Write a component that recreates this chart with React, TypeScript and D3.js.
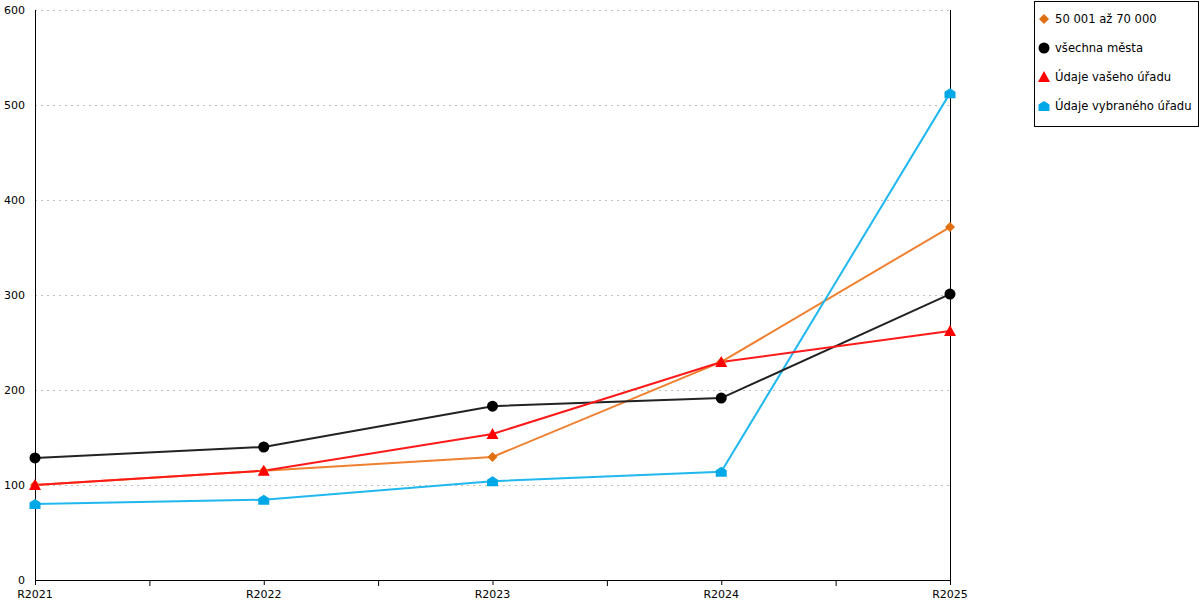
import React from "react";
import * as d3 from "d3";

const categories = ["R2021", "R2022", "R2023", "R2024", "R2025"];
const seriesNames = ["50 001 až 70 000", "všechna města", "Údaje vašeho úřadu", "Údaje vybraného úřadu"];
const orangeValues = [100, 115, 129.5, 229.5, 371.5];
const blackValues = [128.5, 140, 183, 191.5, 301];
const redValues = [100, 115, 153.7, 229.5, 262];
const blueValues = [80, 84.5, 104, 114, 512.5];
const yTicks = [0, 100, 200, 300, 400, 500, 600];
const colors = ["#e07010", "#000000", "#ff0000", "#00a8e8"];
const lineColors = ["#ee8030", "#222222", "#ff1a1a", "#20b8ee"];
const markers = ["diamond", "circle", "triangle", "house"];

function Marker({ kind, x, y, color }: { kind: string; x: number; y: number; color: string }) {
  if (kind === "circle") return <circle cx={x} cy={y} r={5.5} fill={color} />;
  if (kind === "diamond")
    return <path d={`M${x},${y - 5}L${x + 5},${y}L${x},${y + 5}L${x - 5},${y}Z`} fill={color} />;
  if (kind === "triangle")
    return <path d={`M${x},${y - 6}L${x + 6},${y + 5}L${x - 6},${y + 5}Z`} fill={color} />;
  return (
    <path d={`M${x},${y - 5}L${x + 5.5},${y - 1.5}L${x + 5.5},${y + 5}L${x - 5.5},${y + 5}L${x - 5.5},${y - 1.5}Z`} fill={color} />
  );
}

export default function App() {
  const W = 1200, H = 600;
  const left = 35, right = 950, top = 10, bottom = 580;
  const x = d3.scalePoint<string>().domain(categories).range([left, right]);
  const y = d3.scaleLinear().domain([0, 600]).range([bottom, top]);
  const all = [orangeValues, blackValues, redValues, blueValues];
  const line = d3
    .line<number>()
    .x((_, i) => x(categories[i]) as number)
    .y((d) => y(d));
  const step = (right - left) / (categories.length - 1);
  const midTicks = categories.slice(0, -1).map((c) => (x(c) as number) + step / 2);
  const font = "Verdana, 'DejaVu Sans', sans-serif";
  const drawOrder = [0, 3, 1, 2];
  return (
    <svg width={W} height={H} style={{ position: "absolute", left: 0, top: 0 }} fontFamily={font}>
      <rect width={W} height={H} fill="#fff" />
      {yTicks.map((t) => (
        <g key={t}>
          {t > 0 && (
            <line x1={left} x2={right} y1={y(t) + 0.5} y2={y(t) + 0.5} stroke="#c0c0c0" strokeDasharray="2,4" />
          )}
          <text x={left - 10} y={y(t) + 4} textAnchor="end" fontSize={11} fill="#000">
            {t}
          </text>
        </g>
      ))}
      <line x1={left + 0.5} x2={left + 0.5} y1={top} y2={bottom} stroke="#000" />
      <line x1={right + 0.5} x2={right + 0.5} y1={top} y2={bottom} stroke="#000" />
      <line x1={left} x2={right + 1} y1={bottom + 0.5} y2={bottom + 0.5} stroke="#000" />
      {categories.map((c) => (
        <g key={c}>
          <line x1={(x(c) as number) + 0.5} x2={(x(c) as number) + 0.5} y1={bottom} y2={bottom + 5} stroke="#000" />
          <text x={x(c) as number} y={bottom + 18} textAnchor="middle" fontSize={11}>
            {c}
          </text>
        </g>
      ))}
      {midTicks.map((m, i) => (
        <line key={i} x1={m + 0.5} x2={m + 0.5} y1={bottom} y2={bottom + 6} stroke="#000" />
      ))}
      {drawOrder.map((si) => (
        <path key={si} d={line(all[si]) || ""} fill="none" stroke={lineColors[si]} strokeWidth={2} />
      ))}
      {drawOrder.map((si) =>
        all[si].map((v, i) => (
          <Marker key={`${si}-${i}`} kind={markers[si]} x={x(categories[i]) as number} y={y(v)} color={colors[si]} />
        ))
      )}
      <rect x={1034.5} y={1.5} width={164} height={125} fill="#fff" stroke="#000" />
      {seriesNames.map((n, i) => (
        <g key={n}>
          <Marker kind={markers[i]} x={1044} y={19 + i * 29} color={colors[i]} />
          <text x={1055} y={23 + i * 29} fontSize={11.6}>
            {n}
          </text>
        </g>
      ))}
    </svg>
  );
}
